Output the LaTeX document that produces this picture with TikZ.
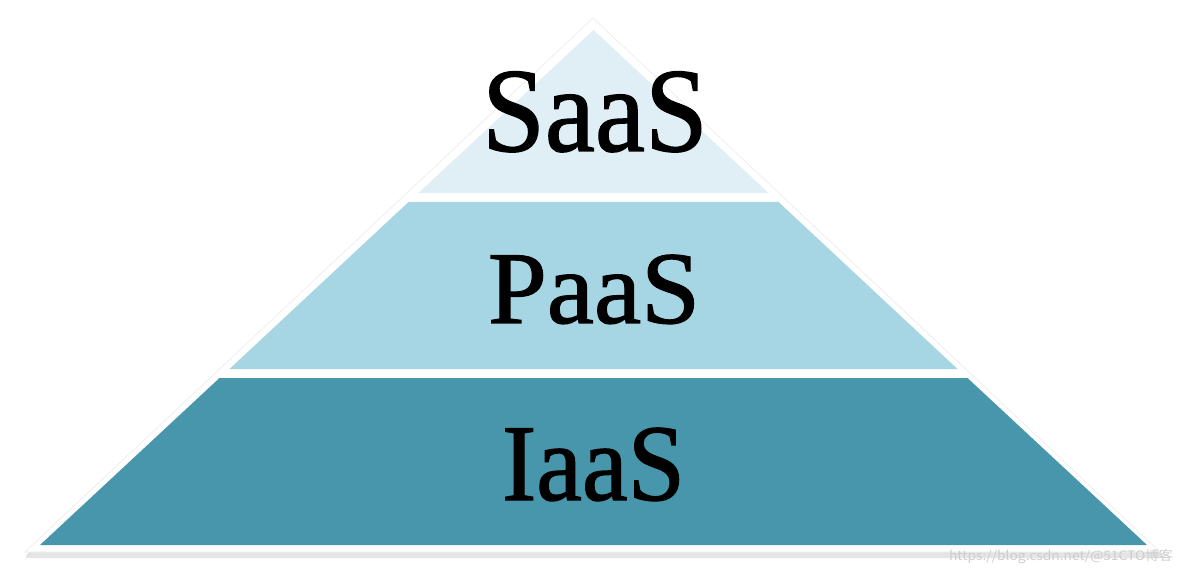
\documentclass[tikz,border=0pt]{standalone}
\usepackage{fontspec}
\setmainfont{Liberation Serif}
\newfontfamily\heavyserif{Liberation Serif}[FakeBold=1.2]
\newfontfamily\cjkwm{Noto Sans CJK SC}
\usetikzlibrary{calc}
\definecolor{saascol}{RGB}{223,239,245}
\definecolor{paascol}{RGB}{166,214,227}
\definecolor{iaascol}{RGB}{71,150,171}
\definecolor{wmcol}{RGB}{205,205,205}
\tikzset{
  layer/.style={draw=none},
  lbl/.style={anchor=base, inner sep=0pt, text=black},
}
\begin{document}
\begin{tikzpicture}[x=1pt,y=-1pt]
\useasboundingbox (0,0) rectangle (1184,572);
\fill[white] (0,0) rectangle (1184,572);
% shadow
\fill[black!18] (593,22) -- (1163,556) -- (26,556) -- cycle;
\fill[black!10] (593,21) -- (1164,558) -- (25,558) -- cycle;
% white outline triangle
\filldraw[fill=white, draw=black!8, line width=0.6pt] (593,18) -- (1160,552) -- (25,552) -- cycle;
% layers
\fill[saascol, layer] (593.5,30) -- (768.5,193) -- (418.5,193) -- cycle;
\fill[paascol, layer] (408.5,202) -- (778.5,202) -- (957.5,369) -- (229.5,369) -- cycle;
\fill[iaascol, layer] (219.5,378) -- (967.5,378) -- (1147,545) -- (40,545) -- cycle;
% labels
\node[lbl, font=\heavyserif\fontsize{120}{120}\selectfont] (saas) at (595,151) {\scalebox{0.94}[1]{SaaS}};
\node[lbl, font=\heavyserif\fontsize{103}{103}\selectfont] (paas) at (594,323) {\scalebox{1.03}[1]{PaaS}};
\node[lbl, font=\heavyserif\fontsize{109}{109}\selectfont] (iaas) at (593.5,500) {\scalebox{0.945}[1]{IaaS}};
% watermark
\node[anchor=east, inner sep=0pt, text=wmcol, font=\cjkwm\fontsize{13}{13}\selectfont] (wm) at (1173,557) {\scalebox{1.06}[1]{https://blog.csdn.net/@51CTO博客}};
\end{tikzpicture}
\end{document}
